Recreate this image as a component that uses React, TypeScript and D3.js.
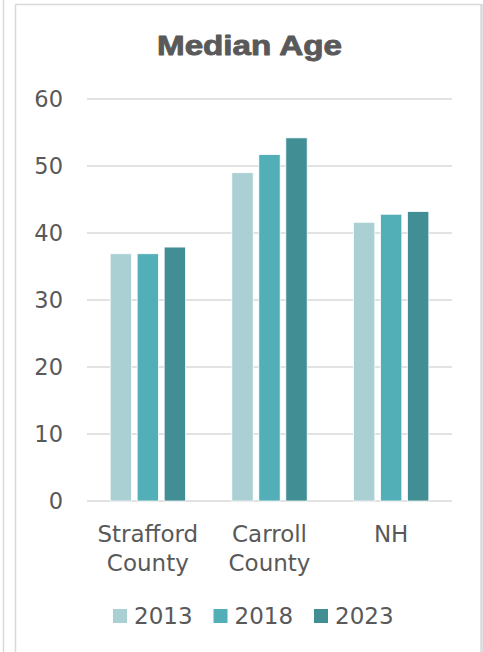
import React from "react";
import * as d3 from "d3";

// Median age by area and survey year
const categories = ["Strafford County", "Carroll County", "NH"];
const categoryLines = [["Strafford", "County"], ["Carroll", "County"], ["NH"]];
const years = ["2013", "2018", "2023"];
const values2013 = [36.9, 49.0, 41.6];
const values2018 = [36.9, 51.7, 42.8];
const values2023 = [37.9, 54.2, 43.2];
const yTicks = [0, 10, 20, 30, 40, 50, 60];

const seriesValues = [values2013, values2018, values2023];
const colors = ["#abd0d3", "#52afb7", "#418f95"];

const W = 483;
const H = 652;
const TEXT = "#595959";
const GRID = "#d9d9d9";
const FONT = "'DejaVu Sans', Verdana, sans-serif";

export default function App() {
  const x = d3.scaleBand<string>().domain(categories).range([87, 452]).paddingInner(0).paddingOuter(0);
  const xInner = d3
    .scaleBand<string>()
    .domain(years)
    .range([0, x.bandwidth()])
    .paddingInner(0.21)
    .paddingOuter(0.858);
  const y = d3.scaleLinear().domain([0, 60]).range([501, 99]);

  const legendX = 113;
  const legendStep = 100.5;
  const legendY = 609;

  return (
    <svg
      width={W}
      height={H}
      style={{ position: "absolute", left: 0, top: 0, background: "#fff" }}
      xmlns="http://www.w3.org/2000/svg"
    >
      {/* neighbouring panel edge and chart frame */}
      <line x1={3.5} x2={3.5} y1={0} y2={H} stroke={GRID} strokeWidth={1.5} />
      <path d={`M15.5,${H} V4.5 H481`} fill="none" stroke={GRID} strokeWidth={1.5} />
      <line x1={481.5} x2={481.5} y1={4} y2={H} stroke={GRID} strokeWidth={2.5} />

      <text
        x={157}
        y={55}
        textLength={185}
        lengthAdjust="spacingAndGlyphs"
        fontFamily="'Liberation Sans', Arial, sans-serif"
        fontWeight="bold"
        fontSize={28}
        fill={TEXT}
        stroke={TEXT}
        strokeWidth={0.9}
        strokeLinejoin="round"
      >
        Median Age
      </text>

      {/* gridlines and value axis */}
      {yTicks.map((t) => (
        <g key={t}>
          <line x1={87} x2={452} y1={y(t)} y2={y(t)} stroke={GRID} strokeWidth={1.5} />
          <text
            x={63}
            y={y(t)}
            dy="0.36em"
            textAnchor="end"
            fontFamily={FONT}
            fontSize={22.5}
            fill={TEXT}
          >
            {t}
          </text>
        </g>
      ))}

      {/* bars */}
      {categories.map((c, ci) => (
        <g key={c} transform={`translate(${x(c)},0)`}>
          {years.map((yr, si) => {
            const v = seriesValues[si][ci];
            return (
              <rect
                key={yr}
                x={xInner(yr)}
                y={y(v)}
                width={xInner.bandwidth()}
                height={y(0) - y(v)}
                fill={colors[si]}
                stroke="#ffffff"
                strokeWidth={0.75}
              />
            );
          })}
        </g>
      ))}

      {/* category labels */}
      {categories.map((c, ci) => (
        <text
          key={c}
          x={(x(c) as number) + x.bandwidth() / 2}
          y={542}
          textAnchor="middle"
          fontFamily={FONT}
          fontSize={23}
          fill={TEXT}
        >
          {categoryLines[ci].map((ln, li) => (
            <tspan key={li} x={(x(c) as number) + x.bandwidth() / 2} dy={li === 0 ? 0 : 29}>
              {ln}
            </tspan>
          ))}
        </text>
      ))}

      {/* legend */}
      {years.map((yr, si) => (
        <g key={yr} transform={`translate(${legendX + si * legendStep},${legendY})`}>
          <rect x={0} y={0} width={14} height={14} fill={colors[si]} />
          <text x={21} y={15} fontFamily={FONT} fontSize={23} fill={TEXT}>
            {yr}
          </text>
        </g>
      ))}
    </svg>
  );
}
